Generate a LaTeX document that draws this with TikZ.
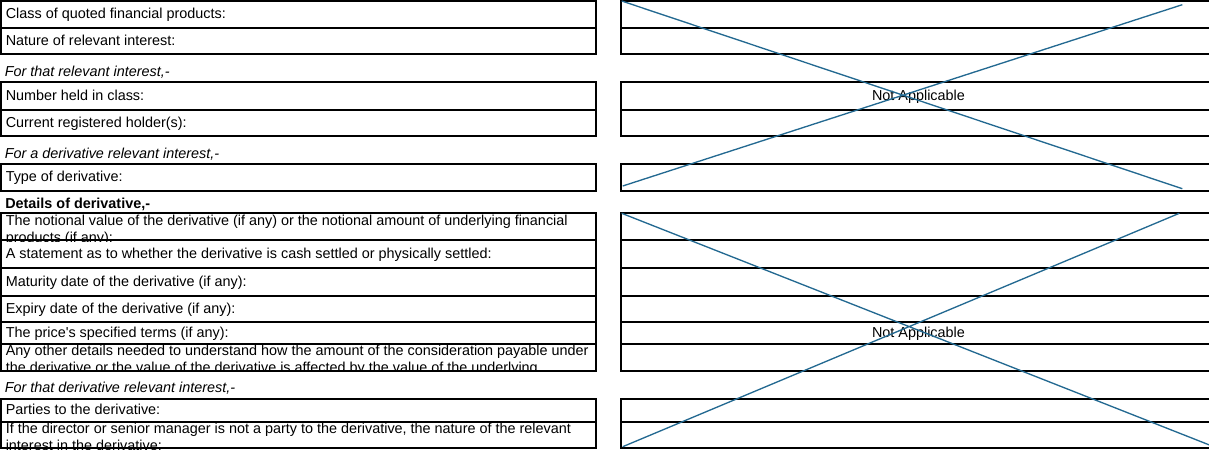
\documentclass[tikz,border=0pt]{standalone}
\usepackage{fontspec}
\setmainfont{Liberation Sans}
\usepackage{tikz}
\usetikzlibrary{fit}
\definecolor{crossblue}{RGB}{35,105,145}
\tikzset{
	cell/.style={draw, line width=1.5pt, inner sep=0pt},
	entry/.style={anchor=base west, inner sep=0pt, align=left, font=\fontsize{10.8pt}{12.75pt}\selectfont},
	note/.style={entry, font=\fontsize{10.8pt}{12.75pt}\selectfont\itshape},
	heading/.style={entry, font=\fontsize{10.8pt}{12.75pt}\selectfont\bfseries},
	na/.style={anchor=base, inner sep=0pt, font=\fontsize{10.8pt}{12.75pt}\selectfont},
	cross/.style={draw=crossblue, line width=1pt},
}

\begin{document}
\begin{tikzpicture}[x=0.75pt, y=-0.75pt]
	\useasboundingbox (0,0) rectangle (1209,450);

	\node[cell, fit={(1,1) (595.7,27.7)}] (class) {};
	\node[cell, fit={(1,27.7) (595.7,54.3)}] (nature) {};
	\node[cell, fit={(1,81.7) (595.7,109.7)}] (number) {};
	\node[cell, fit={(1,109.7) (595.7,136.3)}] (holder) {};
	\node[cell, fit={(1,163.7) (595.7,190.7)}] (type) {};
	\node[cell, fit={(1,213.3) (595.7,240)}] (notional) {};
	\node[cell, fit={(1,240) (595.7,268.3)}] (settle) {};
	\node[cell, fit={(1,268.3) (595.7,295.7)}] (maturity) {};
	\node[cell, fit={(1,295.7) (595.7,322.3)}] (expiry) {};
	\node[cell, fit={(1,322.3) (595.7,344)}] (price) {};
	\node[cell, fit={(1,344) (595.7,370.7)}] (other) {};
	\node[cell, fit={(1,399) (595.7,421.7)}] (parties) {};
	\node[cell, fit={(1,421.7) (595.7,448.3)}] (director) {};

	\node[cell, fit={(621,1) (1212,27.7)}] (classval) {};
	\node[cell, fit={(621,27.7) (1212,54.3)}] (natureval) {};
	\node[cell, fit={(621,81.7) (1212,109.7)}] (numberval) {};
	\node[cell, fit={(621,109.7) (1212,136.3)}] (holderval) {};
	\node[cell, fit={(621,163.7) (1212,190.7)}] (typeval) {};
	\node[cell, fit={(621,213.3) (1212,240)}] (notionalval) {};
	\node[cell, fit={(621,240) (1212,268.3)}] (settleval) {};
	\node[cell, fit={(621,268.3) (1212,295.7)}] (maturityval) {};
	\node[cell, fit={(621,295.7) (1212,322.3)}] (expiryval) {};
	\node[cell, fit={(621,322.3) (1212,344)}] (priceval) {};
	\node[cell, fit={(621,344) (1212,370.7)}] (otherval) {};
	\node[cell, fit={(621,399) (1212,421.7)}] (partiesval) {};
	\node[cell, fit={(621,421.7) (1212,448.3)}] (directorval) {};

	\node[entry] (classtxt) at ([shift={(5.5,4.5)}]class.west) {Class of quoted financial products:};
	\node[entry] (naturetxt) at ([shift={(5.5,4.5)}]nature.west) {Nature of relevant interest:};
	\node[note] (forthat) at ([shift={(4.5,-4.4)}]number.north west) {For that relevant interest,-};
	\node[entry] (numbertxt) at ([shift={(5.5,4.5)}]number.west) {Number held in class:};
	\node[entry] (holdertxt) at ([shift={(5.5,4.5)}]holder.west) {Current registered holder(s):};
	\node[note] (forderiv) at ([shift={(4.5,-4.4)}]type.north west) {For a derivative relevant interest,-};
	\node[entry] (typetxt) at ([shift={(5.5,4.5)}]type.west) {Type of derivative:};
	\node[heading] (details) at ([shift={(5,-3.8)}]notional.north west) {Details of derivative,-};
	\begin{scope}
		\clip (notional.north west) rectangle (notional.south east);
		\node[entry] (notionaltxt) at ([shift={(5.5,29.8)}]notional.north west) {The notional value of the derivative (if any) or the notional amount of underlying financial\\products (if any):};
	\end{scope}
	\node[entry] (settletxt) at ([shift={(5.5,4.5)}]settle.west) {A statement as to whether the derivative is cash settled or physically settled:};
	\node[entry] (maturitytxt) at ([shift={(5.5,4.5)}]maturity.west) {Maturity date of the derivative (if any):};
	\node[entry] (expirytxt) at ([shift={(5.5,4.5)}]expiry.west) {Expiry date of the derivative (if any):};
	\node[entry] (pricetxt) at ([shift={(5.5,4.5)}]price.west) {The price\textquotesingle s specified terms (if any):};
	\begin{scope}
		\clip (other.north west) rectangle (other.south east);
		\node[entry] (othertxt) at ([shift={(5.5,29.8)}]other.north west) {Any other details needed to understand how the amount of the consideration payable under\\the derivative or the value of the derivative is affected by the value of the underlying};
	\end{scope}
	\node[note] (forthatderiv) at ([shift={(4.5,-6)}]parties.north west) {For that derivative relevant interest,-};
	\node[entry] (partiestxt) at ([shift={(5.5,4.5)}]parties.west) {Parties to the derivative:};
	\begin{scope}
		\clip (director.north west) rectangle (director.south east);
		\node[entry] (directortxt) at ([shift={(5.5,29.8)}]director.north west) {If the director or senior manager is not a party to the derivative, the nature of the relevant\\interest in the derivative:};
	\end{scope}

	\node[na] (natop) at ([shift={(2,4.5)}]numberval.center) {Not Applicable};
	\node[na] (nalow) at ([shift={(2,4.5)}]priceval.center) {Not Applicable};

	\coordinate (topnw) at (621.7,1);
	\coordinate (topse) at (1182.3,188.7);
	\coordinate (topsw) at (622.7,186);
	\coordinate (topne) at (1182.3,4.7);
	\coordinate (lownw) at (621.7,213.3);
	\coordinate (lowse) at (1212,446);
	\coordinate (lowsw) at (622.7,446.7);
	\coordinate (lowne) at (1179.3,213.3);
	\draw[cross] (topnw) -- (topse) (topsw) -- (topne);
	\draw[cross] (lownw) -- (lowse) (lowsw) -- (lowne);
\end{tikzpicture}
\end{document}
